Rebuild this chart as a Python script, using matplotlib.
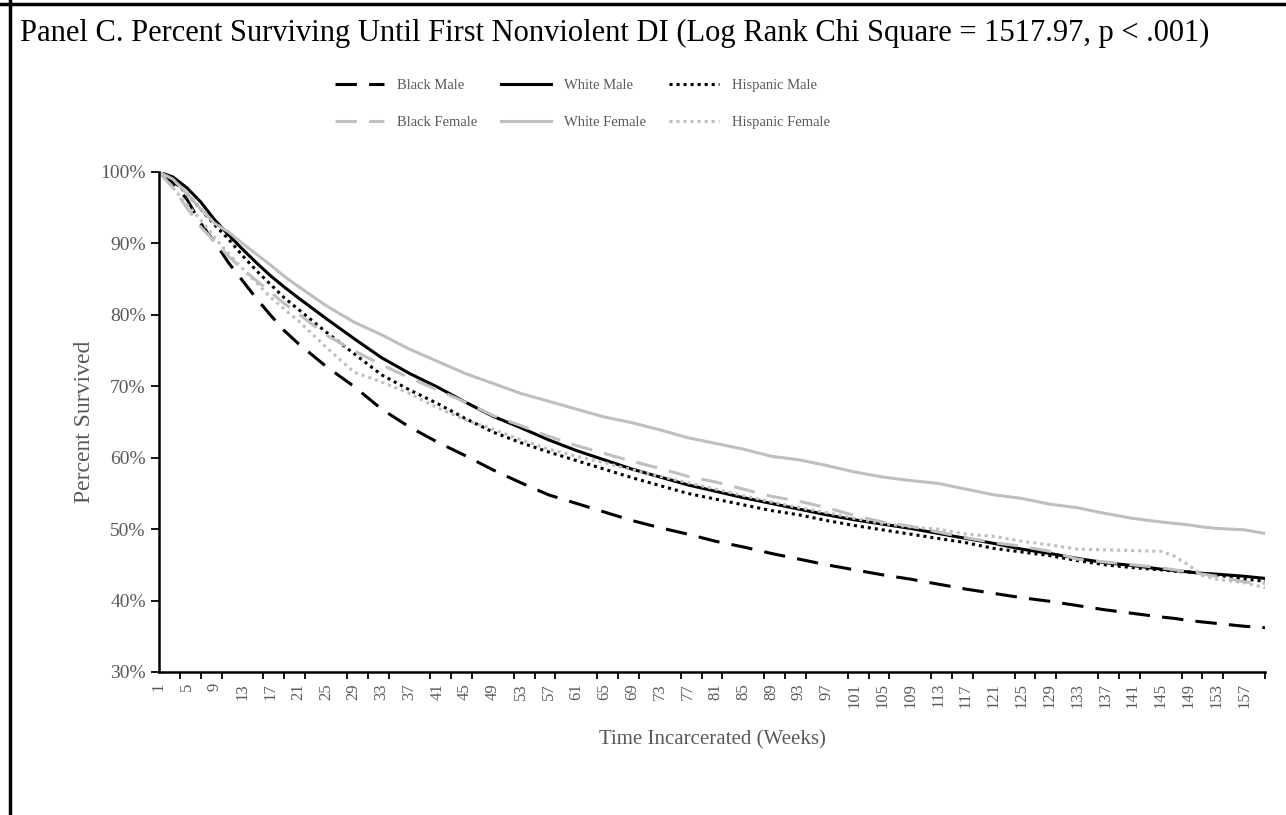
import matplotlib.pyplot as plt
from matplotlib.lines import Line2D
from matplotlib.ticker import PercentFormatter

plt.rcParams['font.family'] = ['Liberation Serif', 'DejaVu Serif']

weeks = [1, 3, 5, 7, 9, 11, 13, 15, 17, 19, 21, 25, 29, 33, 37, 41, 45, 49, 53, 57,
         61, 65, 69, 73, 77, 81, 85, 89, 93, 97, 101, 105, 109, 113, 117, 121, 125,
         129, 133, 137, 141, 145, 147, 149, 151, 153, 157, 160]

black_male = [100, 98.5, 96.2, 92.8, 90.2, 87.3, 84.8, 82.3, 80.0, 77.8, 76.0, 72.8, 70.0,
              66.8, 64.3, 62.2, 60.3, 58.3, 56.5, 54.8, 53.6, 52.4, 51.2, 50.2, 49.3, 48.3,
              47.5, 46.6, 45.8, 45.0, 44.3, 43.6, 43.0, 42.3, 41.6, 41.0, 40.4, 39.9, 39.3,
              38.7, 38.2, 37.7, 37.5, 37.2, 37.0, 36.8, 36.4, 36.2]
white_male = [100, 99.3, 97.8, 95.8, 93.3, 91.2, 89.2, 87.3, 85.5, 83.9, 82.4, 79.5, 76.7,
              74.0, 71.8, 69.9, 67.8, 65.8, 64.2, 62.5, 61.0, 59.7, 58.4, 57.3, 56.2, 55.3,
              54.4, 53.6, 52.8, 52.0, 51.3, 50.7, 50.1, 49.4, 48.7, 48.0, 47.2, 46.6, 45.9,
              45.3, 44.9, 44.4, 44.2, 44.0, 43.8, 43.7, 43.4, 43.1]
hispanic_male = [100, 98.8, 97.0, 94.8, 92.6, 90.6, 88.3, 86.2, 84.3, 82.4, 80.8, 77.6, 74.6,
                 71.6, 69.5, 67.6, 65.5, 63.6, 62.1, 60.8, 59.6, 58.4, 57.2, 56.1, 55.0, 54.2,
                 53.4, 52.6, 52.0, 51.2, 50.5, 49.9, 49.3, 48.7, 48.1, 47.3, 46.8, 46.3, 45.6,
                 45.0, 44.6, 44.3, 44.1, 44.0, 43.8, 43.6, 43.0, 42.7]
black_female = [100, 97.8, 95.0, 92.3, 90.3, 88.2, 86.4, 84.8, 83.2, 81.6, 80.2, 77.2, 75.0,
                73.0, 71.2, 69.5, 67.8, 65.9, 64.5, 63.0, 61.7, 60.6, 59.5, 58.5, 57.4, 56.6,
                55.6, 54.6, 53.9, 53.0, 51.9, 51.0, 50.4, 49.6, 48.8, 48.1, 47.6, 46.9, 45.8,
                45.4, 45.0, 44.6, 44.3, 44.0, 43.7, 43.4, 42.6, 42.4]
white_female = [100, 99.0, 97.0, 94.8, 92.8, 91.6, 90.0, 88.5, 87.0, 85.4, 84.0, 81.3, 79.0,
                77.2, 75.2, 73.5, 71.8, 70.4, 69.0, 67.9, 66.8, 65.7, 64.9, 63.9, 62.8, 62.0,
                61.2, 60.2, 59.7, 58.9, 58.0, 57.3, 56.8, 56.4, 55.6, 54.8, 54.3, 53.5, 53.0,
                52.2, 51.5, 51.0, 50.8, 50.6, 50.3, 50.1, 49.9, 49.4]
hispanic_female = [100, 97.8, 95.5, 93.3, 90.8, 88.6, 86.5, 84.5, 82.5, 80.8, 79.2, 75.5, 72.0,
                   70.6, 69.0, 67.0, 65.3, 64.0, 62.5, 61.2, 60.2, 59.3, 58.3, 57.4, 56.5, 55.6,
                   54.7, 53.8, 53.0, 52.3, 51.5, 50.8, 50.3, 50.0, 49.3, 49.0, 48.3, 47.8, 47.2,
                   47.1, 47.0, 46.9, 46.2, 45.0, 43.5, 43.0, 42.5, 41.8]

tick_weeks = list(range(1, 161, 4))
minor_weeks = list(range(1, 161, 3))

black = '#000000'
gray = '#bfbfbf'
label_gray = '#595959'
dash = (0, (7, 4))
dot = (0, (1, 1.3))

fig = plt.figure(figsize=(12.86, 8.15), dpi=100)
ax = fig.add_axes([0.1236, 0.1755, 0.8601, 0.6135])

bm, = ax.plot(weeks, black_male, color=black, lw=2.2, linestyle=dash, label='Black Male')
wm, = ax.plot(weeks, white_male, color=black, lw=2.2, label='White Male')
hm, = ax.plot(weeks, hispanic_male, color=black, lw=2.2, linestyle=dot, label='Hispanic Male')
bf, = ax.plot(weeks, black_female, color=gray, lw=2.2, linestyle=dash, label='Black Female')
wf, = ax.plot(weeks, white_female, color=gray, lw=2.2, label='White Female')
hf, = ax.plot(weeks, hispanic_female, color=gray, lw=2.2, linestyle=dot, label='Hispanic Female')

ax.set_xlim(1, 160)
ax.set_ylim(30, 100)
ax.set_yticks(range(30, 101, 10))
ax.yaxis.set_major_formatter(PercentFormatter(decimals=0))
ax.set_xticks(tick_weeks)
ax.set_xticklabels([str(w) for w in tick_weeks], rotation=90)
ax.set_xticks(minor_weeks, minor=True)
ax.tick_params(axis='x', which='major', length=0, pad=8, labelsize=12, labelcolor=label_gray)
ax.tick_params(axis='x', which='minor', length=5, width=1.3, direction='out')
ax.tick_params(axis='y', length=6, width=1.3, labelsize=14, labelcolor=label_gray)

for side in ['top', 'right']:
    ax.spines[side].set_visible(False)
for side in ['left', 'bottom']:
    ax.spines[side].set_linewidth(1.8)

ax.set_ylabel('Percent Survived', fontsize=17, color=label_gray, labelpad=4)
ax.set_xlabel('Time Incarcerated (Weeks)', fontsize=15, color=label_gray, labelpad=16)

fig.text(0.0155, 0.977, 'Panel C. Percent Surviving Until First Nonviolent DI '
         '(Log Rank Chi Square = 1517.97, p < .001)', fontsize=22, va='top', ha='left')

# legend fills by column, so order handles to give the reference's rows
leg = fig.legend([bm, bf, wm, wf, hm, hf],
                 ['Black Male', 'Black Female', 'White Male', 'White Female',
                  'Hispanic Male', 'Hispanic Female'],
                 loc='upper left', bbox_to_anchor=(0.250, 0.919), ncol=3, frameon=False,
                 fontsize=10.5, handlelength=3.4, handletextpad=0.9, columnspacing=1.6,
                 labelspacing=1.6)
for t in leg.get_texts():
    t.set_color(label_gray)

# frame lines of the surrounding box
fig.add_artist(Line2D([0, 1], [0.995, 0.995], color='black', lw=2.5))
fig.add_artist(Line2D([0.0078, 0.0078], [0, 1], color='black', lw=2.5))

fig.savefig('out.png', dpi=100)
